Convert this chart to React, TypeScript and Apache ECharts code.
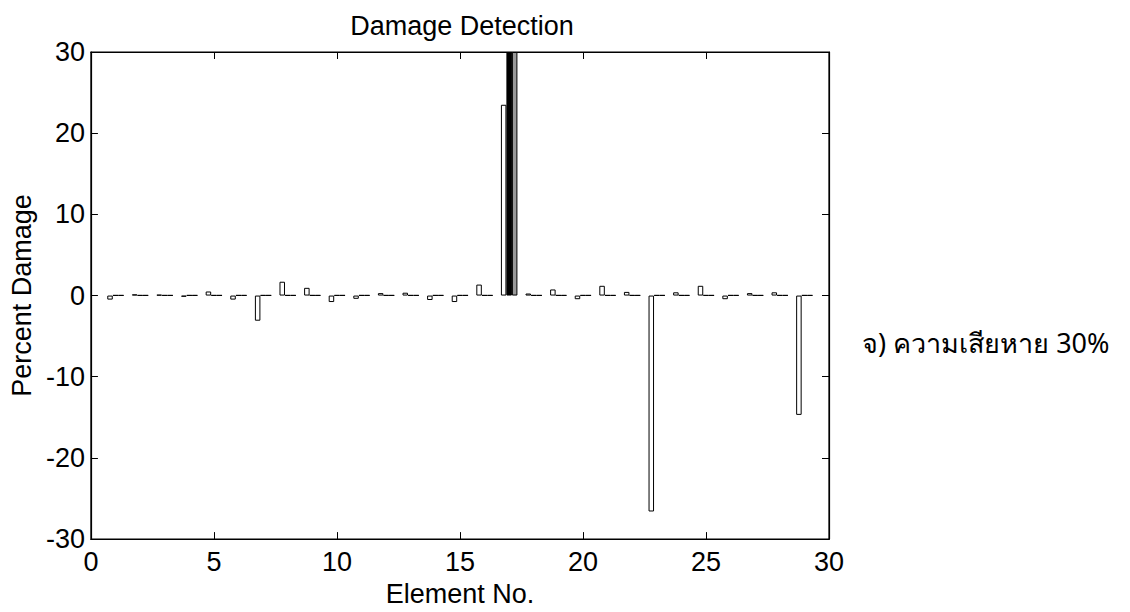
import React, { useEffect, useRef } from "react";
import * as echarts from "echarts";

const elements = [1, 2, 3, 4, 5, 6, 7, 8, 9, 10, 11, 12, 13, 14, 15, 16, 17, 18, 19, 20, 21, 22, 23, 24, 25, 26, 27, 28, 29];
const detected = [-0.5, 0.15, 0.1, -0.15, 0.5, -0.5, -3.1, 1.7, 0.95, -0.8, -0.4, 0.3, 0.35, -0.55, -0.8, 1.35, 23.5, 0.25, 0.75, -0.45, 1.2, 0.45, -26.6, 0.4, 1.2, -0.45, 0.3, 0.4, -14.7];
const actualA = [0, 0, 0, 0, 0, 0, 0, 0, 0, 0, 0, 0, 0, 0, 0, 0, 30, 0, 0, 0, 0, 0, 0, 0, 0, 0, 0, 0, 0];
const actualB = [0, 0, 0, 0, 0, 0, 0, 0, 0, 0, 0, 0, 0, 0, 0, 0, 30, 0, 0, 0, 0, 0, 0, 0, 0, 0, 0, 0, 0];

const FONT = "'Liberation Sans', Arial, Helvetica, sans-serif";
const FS = 27;

export default function App() {
  const ref = useRef<HTMLDivElement>(null);
  useEffect(() => {
    if (!ref.current) return;
    const chart = echarts.init(ref.current, undefined, { renderer: "svg" });
    const mk = (vals: number[], fill: string) => ({
      type: "bar",
      data: elements.map((e, i) => [e, vals[i]]),
      barWidth: 5.5,
      barGap: "0%",
      barMinHeight: 0.3,
      itemStyle: { color: fill, borderColor: "#000", borderWidth: 1 },
      emphasis: { disabled: true },
      clip: true,
    });
    const axisCommon = {
      axisLine: { show: true, onZero: false, lineStyle: { color: "#000", width: 1.2 } },
      axisTick: { show: true, inside: true, length: 7, lineStyle: { color: "#000" } },
      splitLine: { show: false },
    };
    chart.setOption({
      animation: false,
      backgroundColor: "#fff",
      title: {
        text: "Damage Detection",
        left: 457,
        top: 7,
        textAlign: "center",
        textStyle: { fontFamily: FONT, fontSize: FS, fontWeight: "normal", color: "#000" },
      },
      grid: { left: 86, right: 301, top: 52, bottom: 69, show: true, borderColor: "#000", borderWidth: 1.2 },
      xAxis: [
        {
          type: "value",
          min: 0,
          max: 30,
          interval: 5,
          name: "Element No.",
          nameLocation: "middle",
          nameGap: 29,
          nameTextStyle: { fontFamily: FONT, fontSize: FS, color: "#000" },
          axisLabel: { fontFamily: FONT, fontSize: FS, color: "#000", margin: 9 },
          ...axisCommon,
        },
        {
          type: "value",
          position: "top",
          min: 0,
          max: 30,
          interval: 5,
          axisLabel: { show: false },
          ...axisCommon,
        },
      ],
      yAxis: [
        {
          type: "value",
          min: -30,
          max: 30,
          interval: 10,
          name: "Percent Damage",
          nameLocation: "middle",
          nameGap: 48,
          nameTextStyle: { fontFamily: FONT, fontSize: FS, color: "#000" },
          axisLabel: { fontFamily: FONT, fontSize: FS, color: "#000", margin: 6 },
          ...axisCommon,
        },
        {
          type: "value",
          position: "right",
          min: -30,
          max: 30,
          interval: 10,
          axisLabel: { show: false },
          ...axisCommon,
        },
      ],
      series: [mk(detected, "#ffffff"), mk(actualA, "#000000"), mk(actualB, "#999999")],
      graphic: [
        {
          type: "text",
          left: 862,
          top: 329,
          style: {
            text: "จ) ความเสียหาย 30%",
            fontFamily: "'Noto Sans', 'DejaVu Sans', sans-serif",
            fontSize: FS,
            fill: "#000",
          },
        },
      ],
    });
    return () => chart.dispose();
  }, []);
  return (
    <div
      ref={ref}
      style={{ position: "absolute", left: 0, top: 0, width: 1130, height: 612, background: "#fff" }}
    />
  );
}
